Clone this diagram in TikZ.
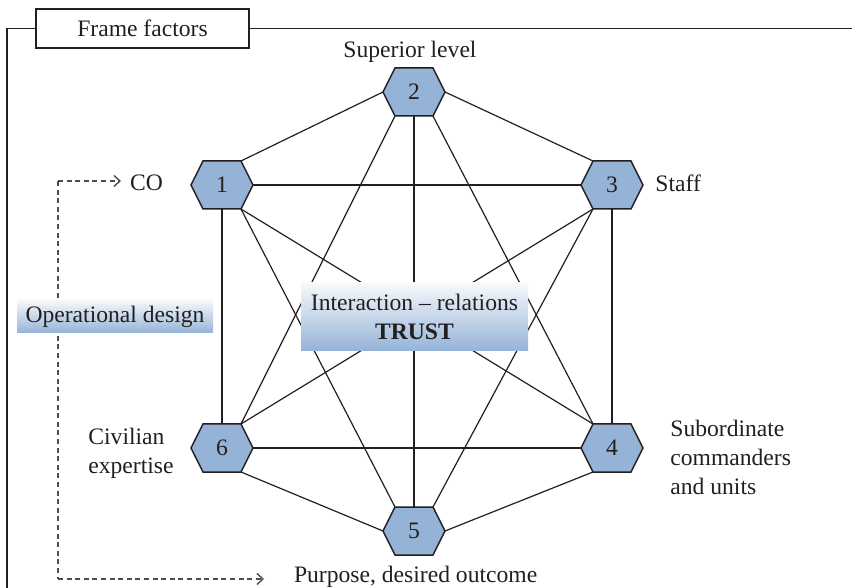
\documentclass[tikz,border=0pt]{standalone}
\usepackage{fontspec}
\setmainfont{Liberation Serif}
\usetikzlibrary{arrows.meta,backgrounds,calc}
\definecolor{hexblue}{RGB}{149,179,215}
\definecolor{ink}{RGB}{35,31,32}
\tikzset{
  hexa/.pic={
    \path[draw=ink, fill=hexblue, line width=0.75pt]
      (-31,0) -- (-19,-24) -- (19,-24) -- (31,0) -- (19,24) -- (-19,24) -- cycle;
    \node[inner sep=0pt] (-c) at (0,0) {#1};
    \coordinate (-n) at (0,-24);
    \coordinate (-s) at (0,24);
    \coordinate (-e) at (31,0);
    \coordinate (-w) at (-31,0);
    \coordinate (-ne) at (19,-24);
    \coordinate (-nw) at (-19,-24);
    \coordinate (-se) at (19,24);
    \coordinate (-sw) at (-19,24);
  },
  edge line/.style={draw=ink, line width=0.6pt},
  frame line/.style={draw=ink, line width=0.75pt},
  dash line/.style={draw=ink!80, line width=0.7pt, dash pattern=on 2.5pt off 1.8pt},
  dash arrow/.style={dash line, -{Straight Barb[length=3pt,width=5.5pt,line width=0.7pt]}},
  label text/.style={inner sep=0pt, align=left},
  shaded box/.style={top color=hexblue!8, bottom color=hexblue, draw=none, align=center}
}
\begin{document}
\begin{tikzpicture}[x=0.5pt, y=-0.5pt, font=\fontsize{11.8}{14.5}\selectfont, text=ink]
\useasboundingbox (0,0) rectangle (852,588);

% frame
\node[frame line, fill=white, minimum width=106.5pt, minimum height=19.5pt, inner sep=0pt]
  (fb) at (142.5,28.5) {Frame factors};
\draw[frame line] (fb.west) -| (7,600);
\draw[frame line] (fb.east) -- (860,28.5);

% hexagons
\pic (n1) at (222,185) {hexa=1};
\pic (n2) at (414,92) {hexa=2};
\pic (n3) at (612,185) {hexa=3};
\pic (n4) at (612,448) {hexa=4};
\pic (n5) at (414,531) {hexa=5};
\pic (n6) at (222,448) {hexa=6};

% edges
\begin{scope}[on background layer]
\draw[edge line] (n1-ne) -- (n2-w);
\draw[edge line] (n1-e) -- (n3-w);
\draw[edge line] (n1-se) -- (n4-nw);
\draw[edge line] (n1-se) -- (n5-nw);
\draw[edge line] (n1-s) -- (n6-n);
\draw[edge line] (n2-e) -- (n3-nw);
\draw[edge line] (n2-se) -- (n4-nw);
\draw[edge line] (n2-s) -- (n5-n);
\draw[edge line] (n2-sw) -- (n6-ne);
\draw[edge line] (n3-s) -- (n4-n);
\draw[edge line] (n3-sw) -- (n5-ne);
\draw[edge line] (n3-sw) -- (n6-ne);
\draw[edge line] (n4-sw) -- (n5-e);
\draw[edge line] (n4-w) -- (n6-e);
\draw[edge line] (n5-w) -- (n6-se);
\end{scope}

% labels
\node (sup) at (410,52) {Superior level};
\node[label text, anchor=west] (staff) at (655,183) {Staff};
\node[anchor=west] (co) at (123,183) {CO};
\node[label text, anchor=west] (civ) at (88,453) {Civilian\\expertise};
\node[label text, anchor=west] (sub) at (670,457) {Subordinate\\commanders\\and units};
\node[anchor=west] (pur) at (287,577) {Purpose, desired outcome};

% central box
\node[shaded box, minimum width=113.5pt, minimum height=34pt, inner sep=0pt]
  (trust) at (414.5,317) {Interaction -- relations\\\textbf{TRUST}};

% operational design
\node[shaded box, minimum width=98pt, minimum height=16.5pt, inner sep=0pt]
  (opd) at (115,316.5) {Operational design};
\coordinate (dtop) at (58,181);
\coordinate (dbot) at (58,579);
\begin{scope}[on background layer]
\draw[dash line] (dtop) -- (dbot);
\draw[dash arrow] (dtop) -- ($(dtop -| co.west)+(-2,0)$);
\draw[dash arrow] (dbot) -- ($(dbot -| pur.west)+(-23,0)$);
\end{scope}
\end{tikzpicture}
\end{document}
